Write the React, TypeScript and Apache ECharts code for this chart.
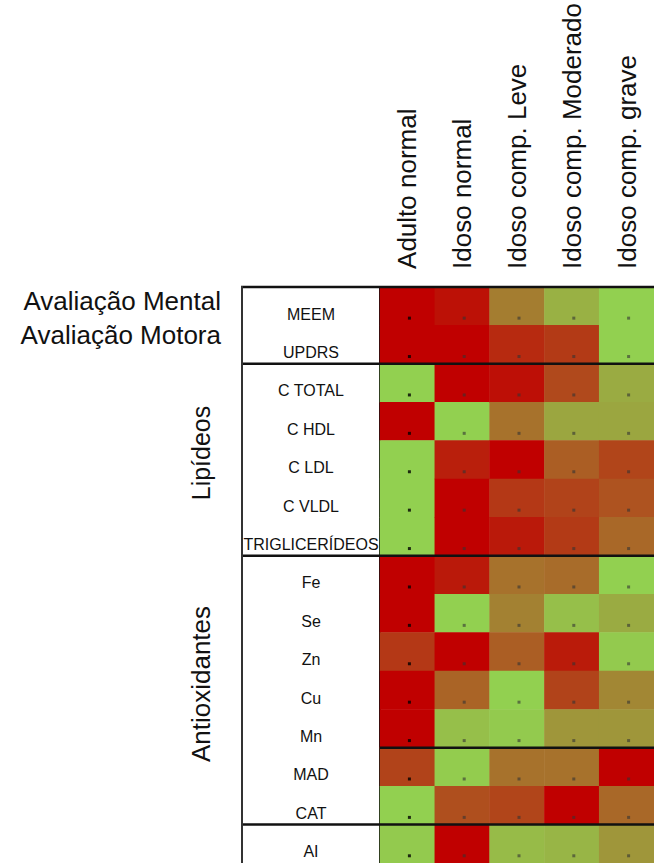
import React, { useEffect, useRef } from "react";
import * as echarts from "echarts";

const FONT = "'Liberation Sans', Arial, sans-serif";

const groups = [
  "Adulto normal",
  "Idoso normal",
  "Idoso comp. Leve",
  "Idoso comp. Moderado",
  "Idoso comp. grave",
];

const rows = [
  "MEEM",
  "UPDRS",
  "C TOTAL",
  "C HDL",
  "C LDL",
  "C VLDL",
  "TRIGLICERÍDEOS",
  "Fe",
  "Se",
  "Zn",
  "Cu",
  "Mn",
  "MAD",
  "CAT",
  "AI",
];

// 0 = red (worst), 100 = green (best)
const adultoNormal = [0, 0, 100, 0, 100, 100, 100, 0, 0, 27, 0, 0, 32, 100, 97];
const idosoNormal = [8, 0, 0, 100, 15, 0, 0, 12, 100, 0, 48, 92, 98, 38, 0];
const idosoLeve = [60, 20, 7, 55, 0, 27, 12, 55, 62, 45, 100, 97, 55, 33, 90];
const idosoModerado = [85, 28, 35, 80, 45, 32, 28, 52, 92, 13, 32, 72, 55, 0, 87];
const idosoGrave = [100, 100, 82, 80, 33, 40, 50, 100, 82, 97, 65, 72, 0, 50, 72];

const columns = [adultoNormal, idosoNormal, idosoLeve, idosoModerado, idosoGrave];

// separators: [row index above which the line sits, kind] kind 1 = full width, 0 = heatmap only, 2 = left box border
const separators = [
  [0, 1],
  [2, 1],
  [7, 1],
  [12, 0],
  [14, 1],
  [0, 2],
];

const sectionLabels = ["Avaliação Mental", "Avaliação Motora", "Lipídeos", "Antioxidantes"];

const LABEL_W = 138;

export default function App() {
  const ref = useRef<HTMLDivElement>(null);
  useEffect(() => {
    if (!ref.current) return;
    const chart = echarts.init(ref.current, null, { renderer: "svg" });

    const heat: any[] = [];
    const dots0: any[] = [];
    const dotsN: any[] = [];
    columns.forEach((col, c) => {
      col.forEach((v, r) => {
        heat.push([c, r, v]);
        if (c === 0) dots0.push([c, r]);
        else dotsN.push([c, r]);
      });
    });

    const option: any = {
      animation: false,
      backgroundColor: "#ffffff",
      grid: { left: 380, top: 285, width: 280, height: 580 },
      xAxis: {
        type: "category",
        data: groups,
        position: "top",
        axisLine: { show: false },
        axisTick: { show: false },
        splitLine: { show: false },
        axisLabel: {
          rotate: -90,
          fontSize: 26,
          margin: 18,
          color: "#111",
          fontFamily: FONT,
          interval: 0,
        },
      },
      yAxis: {
        type: "category",
        data: rows,
        inverse: true,
        axisLine: { show: true, lineStyle: { color: "#111", width: 2 } },
        axisTick: { show: false },
        splitLine: { show: false },
        axisLabel: {
          interval: 0,
          fontSize: 16,
          color: "#111",
          fontFamily: FONT,
          align: "center",
          verticalAlign: "top",
          margin: 69,
        },
      },
      visualMap: {
        show: false,
        min: 0,
        max: 100,
        dimension: 2,
        seriesIndex: 0,
        inRange: { color: ["#C00000", "#92D050"] },
      },
      series: [
        {
          type: "heatmap",
          data: heat,
          itemStyle: { borderWidth: 0 },
          emphasis: { disabled: true },
          z: 1,
        },
        {
          type: "scatter",
          data: dots0,
          symbol: "rect",
          symbolSize: 3,
          symbolOffset: [2, 12],
          itemStyle: { color: "#000" },
          z: 5,
        },
        {
          type: "scatter",
          data: dotsN,
          symbol: "rect",
          symbolSize: 3,
          symbolOffset: [2, 12],
          itemStyle: { color: "#333", opacity: 0.6 },
          z: 5,
        },
        {
          type: "custom",
          clip: false,
          z: 10,
          data: separators.map((s) => [0, s[0], s[1]]),
          encode: { x: 0, y: 1 },
          renderItem: (params: any, api: any) => {
            const row = api.value(1);
            const kind = api.value(2);
            const p = api.coord([0, row]);
            const sz = api.size([1, 1]);
            const cw = sz[0];
            const rh = sz[1];
            const left = p[0] - cw / 2;
            const top = p[1] - rh / 2;
            const right = left + groups.length * cw;
            if (kind === 2) {
              const bottom = api.coord([0, rows.length - 1])[1] + rh / 2;
              return {
                type: "line",
                shape: { x1: left - LABEL_W, y1: top - 1, x2: left - LABEL_W, y2: bottom + 2 },
                style: { stroke: "#333", lineWidth: 2 },
              };
            }
            return {
              type: "line",
              shape: { x1: kind === 1 ? left - LABEL_W - 1 : left, y1: top, x2: right, y2: top },
              style: { stroke: "#111", lineWidth: 2.5 },
            };
          },
        },
      ],
      graphic: [
        {
          type: "text",
          x: 221,
          y: 301,
          style: {
            text: sectionLabels[0],
            font: `26px ${FONT}`,
            fill: "#111",
            align: "right",
            verticalAlign: "middle",
          },
        },
        {
          type: "text",
          x: 221,
          y: 335,
          style: {
            text: sectionLabels[1],
            font: `26px ${FONT}`,
            fill: "#111",
            align: "right",
            verticalAlign: "middle",
          },
        },
        {
          type: "text",
          x: 201,
          y: 453,
          rotation: Math.PI / 2,
          style: {
            text: sectionLabels[2],
            font: `25px ${FONT}`,
            fill: "#111",
            align: "center",
            verticalAlign: "middle",
          },
        },
        {
          type: "text",
          x: 201,
          y: 684,
          rotation: Math.PI / 2,
          style: {
            text: sectionLabels[3],
            font: `26px ${FONT}`,
            fill: "#111",
            align: "center",
            verticalAlign: "middle",
          },
        },
      ],
    };
    chart.setOption(option);
    return () => chart.dispose();
  }, []);
  return (
    <div
      ref={ref}
      style={{ position: "absolute", left: 0, top: 0, width: 654, height: 863 }}
    />
  );
}
